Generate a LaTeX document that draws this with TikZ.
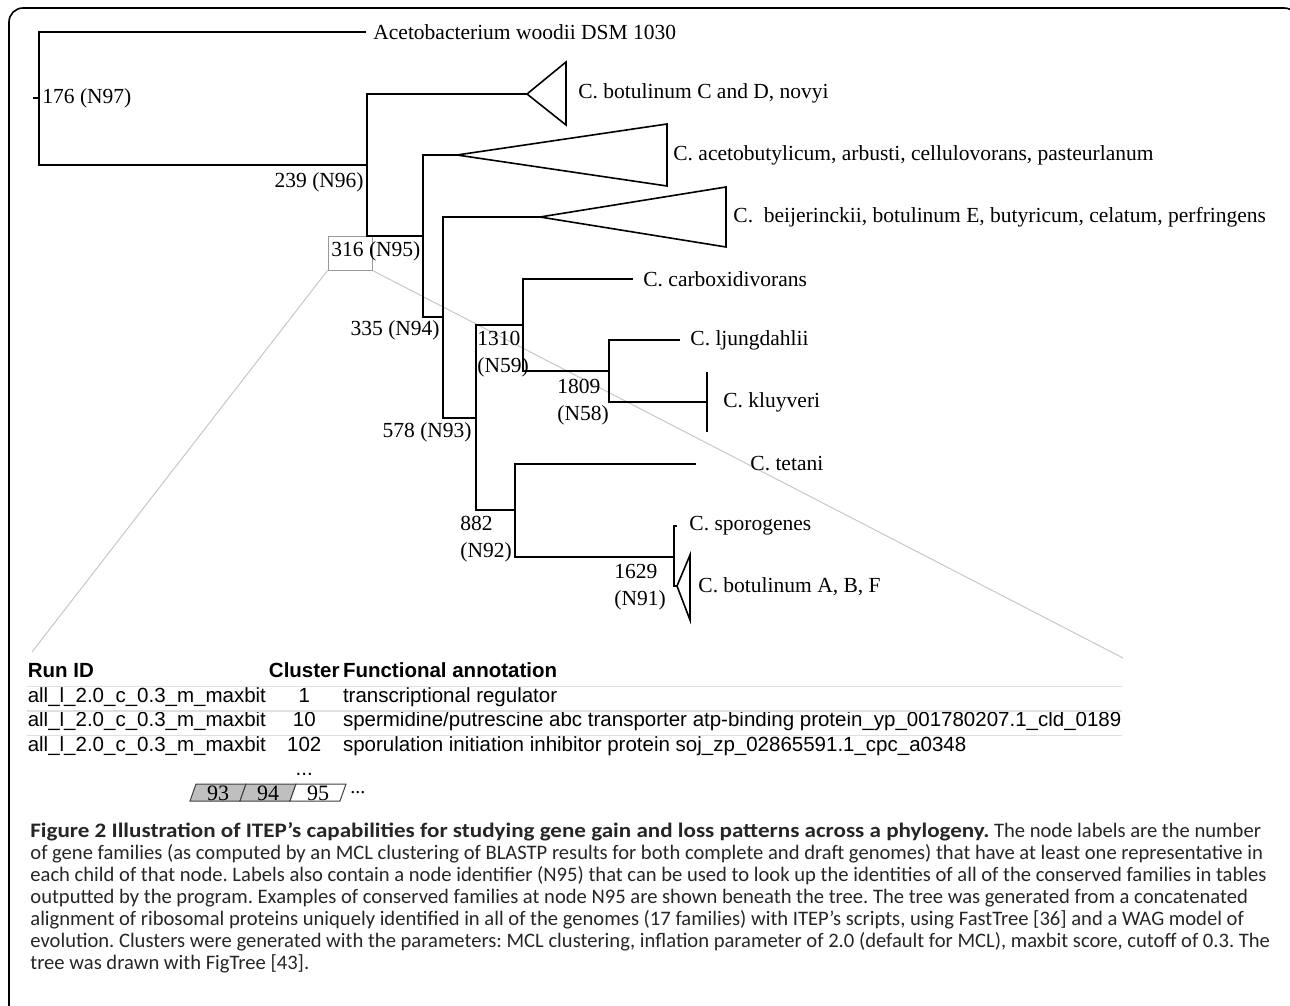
\documentclass[tikz,border=0pt]{standalone}
\usepackage{fontspec}
\setmainfont{Liberation Serif}
\setsansfont{Liberation Sans}
\newfontfamily\capfont{Carlito}[BoldFeatures={FakeStretch=1.12}]
\usepackage{tikz}
\usetikzlibrary{matrix,positioning}

\begin{document}
\begin{tikzpicture}[x=0.5pt,y=-0.5pt,
    branch/.style={line width=0.8pt},
    taxon/.style={anchor=west,inner sep=0pt,font=\fontsize{10.75}{13}\selectfont},
    count/.style={anchor=west,inner sep=0pt,align=left,font=\fontsize{10.75}{13.5}\selectfont},
    zoomline/.style={black!22,line width=0.5pt},
    rowrule/.style={black!12,line width=0.7pt},
    tagbox/.style={draw=black!75,line width=0.5pt}]
\useasboundingbox (0,0) rectangle (1290,1006);
\draw[line width=0.8pt,rounded corners=7pt] (9,1030) -- (9,8) -- (1298,8) -- (1298,1030);

\coordinate (Root) at (33,98);
\coordinate (N97) at (39,98);
\coordinate (N96) at (367,165);
\coordinate (N95) at (423,236);
\coordinate (N94) at (443,317);
\coordinate (N93) at (476,418);
\coordinate (N59) at (523,325);
\coordinate (N58) at (609,371);
\coordinate (N92) at (515,510);
\coordinate (N91) at (674,557);
\coordinate (Aceto) at (366,32);
\coordinate (BotCD) at (527,94);
\coordinate (AcetoBut) at (457,155);
\coordinate (Beij) at (540,217);
\coordinate (Carbox) at (633,279);
\coordinate (Ljung) at (680,340);
\coordinate (Kluy) at (707,402);
\coordinate (Tetani) at (696,464);
\coordinate (Sporo) at (677,526);
\coordinate (BotABF) at (677,586);
\coordinate (ZoomL) at (32,652);
\coordinate (ZoomR) at (1123,658);

\node[draw=black!40,line width=0.5pt,inner sep=0pt,minimum width=22pt,minimum height=17pt] (ZoomBox) at (350,253) {};
\draw[zoomline] (ZoomBox.south west) -- (ZoomL);
\draw[zoomline] (ZoomBox.south east) -- (ZoomR);

\draw[branch] (Root) -- (N97);
\draw[branch] (Aceto) -| (N97) |- (N96);
\draw[branch] (BotCD) -| (N96) |- (N95);
\draw[branch] (AcetoBut) -| (N95) |- (N94);
\draw[branch] (Beij) -| (N94) |- (N93);
\draw[branch] (N59) -| (N93) |- (N92);
\draw[branch] (Carbox) -| (N59) |- (N58);
\draw[branch] (Ljung) -| (N58) |- (Kluy);
\draw[branch] (Tetani) -| (N92) |- (N91);
\draw[branch] (Sporo) -| (N91) |- (BotABF);
\draw[branch] (BotCD) -- ++(39,-32) -- ++(0,63) -- cycle;
\draw[branch] (AcetoBut) -- ++(210,-31) -- ++(0,62) -- cycle;
\draw[branch] (Beij) -- ++(186,-30) -- ++(0,60) -- cycle;
\draw[branch] (BotABF) -- ++(13,-31) -- ++(0,65) -- cycle;
\draw[branch] (Kluy) ++(0,-30) -- ++(0,60);

\node[taxon,right=3.5pt of Aceto] (AcetoLabel) {Acetobacterium woodii DSM 1030};
\node[taxon] (BotCDLabel) at (578,93) {C. botulinum C and D, novyi};
\node[taxon] (AcetoButLabel) at (673,155) {C. acetobutylicum, arbusti, cellulovorans, pasteurlanum};
\node[taxon] (BeijLabel) at (733,217) {C.\ \ beijerinckii, botulinum E, butyricum, celatum, perfringens};
\node[taxon,right=5pt of Carbox] (CarboxLabel) {C. carboxidivorans};
\node[taxon,right=5pt of Ljung] (LjungLabel) {C. ljungdahlii};
\node[taxon,right=8pt of Kluy] (KluyLabel) {C. kluyveri};
\node[taxon,right=27pt of Tetani] (TetaniLabel) {C. tetani};
\node[taxon,right=6pt of Sporo] (SporoLabel) {C. sporogenes};
\node[taxon] (BotABFLabel) at (698,587) {C. botulinum A, B, F};

\node[count] (N97Label) at (42,98) {176 (N97)};
\node[count,anchor=east] (N96Label) at (364,182) {239 (N96)};
\node[count] (N95Label) at (331,251) {316 (N95)};
\node[count,anchor=east] (N94Label) at (440,330) {335 (N94)};
\node[count,anchor=east] (N93Label) at (472,432) {578 (N93)};
\node[count] (N59Label) at (477,354) {1310\\(N59)};
\node[count] (N58Label) at (557,402) {1809\\(N58)};
\node[count] (N92Label) at (460,539) {882\\(N92)};
\node[count] (N91Label) at (614,587) {1629\\(N91)};

\matrix (Runs) [matrix of nodes, anchor=north west, inner sep=0pt, column sep=1.5pt,
    nodes={inner sep=0pt, text height=8.25pt, text depth=4pt, font=\sffamily\fontsize{10.25}{12}\selectfont},
    column 1/.style={nodes={anchor=base west}},
    column 2/.style={nodes={anchor=base}},
    column 3/.style={nodes={anchor=base west}},
    row 1/.style={nodes={font=\sffamily\bfseries\fontsize{10.25}{12}\selectfont}}] at (27,661) {
Run ID & Cluster & Functional annotation\\
all\_l\_2.0\_c\_0.3\_m\_maxbit & 1 & transcriptional regulator\\
all\_l\_2.0\_c\_0.3\_m\_maxbit & 10 & spermidine/putrescine abc transporter atp-binding protein\_yp\_001780207.1\_cld\_0189\\
all\_l\_2.0\_c\_0.3\_m\_maxbit & 102 & sporulation initiation inhibitor protein soj\_zp\_02865591.1\_cpc\_a0348\\
 & ... & \\
};
\draw[rowrule] (Runs-1-1.south west) -- (Runs-1-1.south west -| Runs-3-3.east);
\draw[rowrule] (Runs-2-1.south west) -- (Runs-2-1.south west -| Runs-3-3.east);
\draw[rowrule] (Runs-3-1.south west) -- (Runs-3-1.south west -| Runs-3-3.east);

\foreach \a/\lab/\col in {190/93/black!25, 240/94/black!25, 290/95/white} {
  \draw[tagbox,fill=\col] (\a,801) -- (\a+6,784) -- (\a+56,784) -- (\a+50,801) -- cycle;
  \node[inner sep=0pt,font=\fontsize{11}{12}\selectfont] (Tag\lab) at (\a+28,793) {\lab};
}
\node[anchor=west,inner sep=0pt,font=\fontsize{10}{12}\selectfont] (TagMore) at (350,793) {...};

\node[anchor=north west,inner sep=0pt,align=left,text=black!85,font=\capfont\fontsize{10.3}{11}\selectfont\frenchspacing] (Caption) at (30,822) {%
\textbf{Figure 2 Illustration of ITEP’s capabilities for studying gene gain and loss patterns across a phylogeny.} The node labels are the number\\
of gene families (as computed by an MCL clustering of BLASTP results for both complete and draft genomes) that have at least one representative in\\
each child of that node. Labels also contain a node identifier (N95) that can be used to look up the identities of all of the conserved families in tables\\
outputted by the program. Examples of conserved families at node N95 are shown beneath the tree. The tree was generated from a concatenated\\
alignment of ribosomal proteins uniquely identified in all of the genomes (17 families) with ITEP’s scripts, using FastTree [36] and a WAG model of\\
evolution. Clusters were generated with the parameters: MCL clustering, inflation parameter of 2.0 (default for MCL), maxbit score, cutoff of 0.3. The\\
tree was drawn with FigTree [43].};
\end{tikzpicture}
\end{document}
